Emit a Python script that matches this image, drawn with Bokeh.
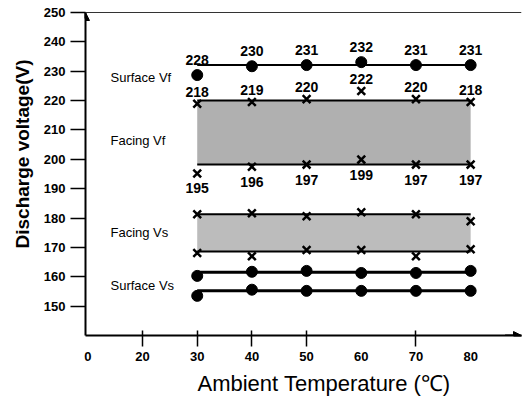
import statistics
from bokeh.plotting import figure
from bokeh.models import Range1d, FixedTicker, Arrow, NormalHead, Span, Title
from bokeh.core.properties import value
from bokeh.embed import file_html
from bokeh.resources import INLINE

# ---------------- data ----------------
temps = [30, 40, 50, 60, 70, 80]

surface_vf = [228.7, 231.7, 232.1, 233.1, 232.1, 232.1]
surface_vf_labels = ["228", "230", "231", "232", "231", "231"]

facing_vf_upper = [218.9, 219.5, 220.5, 223.3, 220.5, 219.5]
facing_vf_upper_labels = ["218", "219", "220", "222", "220", "218"]
facing_vf_lower = [195.2, 197.5, 198.2, 199.9, 198.2, 198.2]
facing_vf_lower_labels = ["195", "196", "197", "199", "197", "197"]

facing_vs_upper = [181.3, 181.6, 180.6, 182.0, 181.3, 178.9]
facing_vs_lower = [168.1, 167.0, 169.1, 169.1, 167.0, 169.4]

surface_vs_upper = [160.3, 161.7, 162.0, 161.3, 161.3, 162.0]
surface_vs_lower = [153.5, 155.6, 155.2, 155.2, 155.2, 155.2]

series_names = ["Surface Vf", "Facing  Vf", "Facing  Vs", "Surface Vs"]
series_name_y = [228.0, 206.5, 175.0, 157.0]

y_ticks = [150, 160, 170, 180, 190, 200, 210, 220, 230, 240, 250]
# broken x axis: the "0" label sits at the origin (position 10)
x_tick_pos = [10, 20, 30, 40, 50, 60, 70, 80]
x_tick_labels = ["0", "20", "30", "40", "50", "60", "70", "80"]
x_tick_marks = [20, 30, 40, 50, 70]

x_title = "Ambient Temperature (\u2103)"
y_title = "Discharge voltage(V)"

# ---------------- figure ----------------
X0, X1 = 9.57, 89.3
Y0, Y1 = 140, 254.09
FONT = value("Liberation Sans")

p = figure(width=522, height=403, output_backend="svg", toolbar_location=None,
           x_range=Range1d(X0, X1), y_range=Range1d(Y0, Y1),
           min_border_left=85, min_border_right=1, min_border_top=0,
           min_border_bottom=68)
p.outline_line_color = None
p.xgrid.visible = False
p.ygrid.visible = False
p.background_fill_color = "white"

# y axis
ya = p.yaxis[0]
ya.ticker = FixedTicker(ticks=y_ticks, minor_ticks=[])
ya.bounds = (Y0, 250)
ya.axis_line_width = 2
ya.axis_line_color = "black"
ya.major_tick_out = 15
ya.major_tick_in = 0
ya.major_tick_line_width = 1.5
ya.major_label_standoff = 5
ya.major_label_text_font = "Liberation Sans"
ya.major_label_text_font_style = "bold"
ya.major_label_text_font_size = "13px"
ya.major_label_text_color = "black"

# x axis
xa = p.xaxis[0]
xa.ticker = FixedTicker(ticks=x_tick_pos, minor_ticks=x_tick_marks)
xa.major_label_overrides = {t: l for t, l in zip(x_tick_pos, x_tick_labels)}
xa.axis_line_width = 2
xa.axis_line_color = "black"
xa.major_tick_line_color = None
xa.major_tick_out = 0
xa.major_tick_in = 0
xa.minor_tick_out = 11
xa.minor_tick_in = 5
xa.minor_tick_line_width = 1.5
xa.minor_tick_line_color = "black"
xa.major_label_standoff = 5
xa.major_label_text_font = "Liberation Sans"
xa.major_label_text_font_style = "bold"
xa.major_label_text_font_size = "13px"
xa.major_label_text_color = "black"

# axis titles
p.add_layout(Title(text=y_title, align="left", offset=87, standoff=15,
                   text_font="Liberation Sans", text_font_style="bold",
                   text_font_size="19px", text_color="black"), "left")
p.add_layout(Title(text=x_title, align="left", offset=112, standoff=11,
                   text_font="Liberation Sans", text_font_style="normal",
                   text_font_size="22px", text_color="black"), "below")

# top border line and axis arrows
p.add_layout(Span(location=250, dimension="width", line_color="#333333", line_width=1.2))
p.add_layout(Arrow(end=NormalHead(size=8, fill_color="black", line_color="black"),
                   x_start=X0, y_start=248, x_end=X0, y_end=250,
                   line_color="black", line_width=2))
p.add_layout(Arrow(end=NormalHead(size=8, fill_color="black", line_color="black"),
                   x_start=X1 - 3, y_start=Y0, x_end=X1, y_end=Y0,
                   line_color="black", line_width=2))

# ---------------- bands ----------------
for (up, lo), fill in [((facing_vf_upper, facing_vf_lower), "#b0b0b0"),
                       ((facing_vs_upper, facing_vs_lower), "#bcbcbc")]:
    top = statistics.median(up)
    bot = statistics.median(lo)
    p.quad(left=[temps[0]], right=[temps[-1]], top=[top], bottom=[bot],
           fill_color=fill, line_color=None)
    p.segment(x0=[temps[0], temps[0]], x1=[temps[-1], temps[-1]],
              y0=[top, bot], y1=[top, bot], line_color="black", line_width=2)

# surface lines
lvl_vf = statistics.median(surface_vf)
p.segment(x0=[temps[0]], x1=[temps[-1]], y0=[lvl_vf], y1=[lvl_vf],
          line_color="black", line_width=2)
for s in (surface_vs_upper, surface_vs_lower):
    lvl = statistics.median(s)
    p.segment(x0=[temps[0]], x1=[temps[-1]], y0=[lvl], y1=[lvl],
              line_color="black", line_width=3)

# markers
for s in (surface_vf, surface_vs_upper, surface_vs_lower):
    p.scatter(temps, s, marker="circle", size=11, fill_color="black", line_color="black")
for s in (facing_vf_upper, facing_vf_lower, facing_vs_upper, facing_vs_lower):
    p.scatter(temps, s, marker="x", size=11, line_color="black", line_width=2.5)

# value labels
lab_kw = dict(text_font=FONT, text_font_style="bold", text_font_size="14px",
              text_align="center", text_baseline="middle", text_color="black")
p.text(x=temps, y=surface_vf, text=surface_vf_labels, y_offset=-15, **lab_kw)
p.text(x=temps, y=facing_vf_upper, text=facing_vf_upper_labels, y_offset=-12, **lab_kw)
p.text(x=temps, y=facing_vf_lower, text=facing_vf_lower_labels, y_offset=15, **lab_kw)

# series names
p.text(x=[14.14] * len(series_names), y=series_name_y, text=series_names,
       text_font=FONT, text_font_size="13px", text_align="left",
       text_baseline="middle", text_color="black")

open("out.html", "w").write(file_html(p, INLINE))
